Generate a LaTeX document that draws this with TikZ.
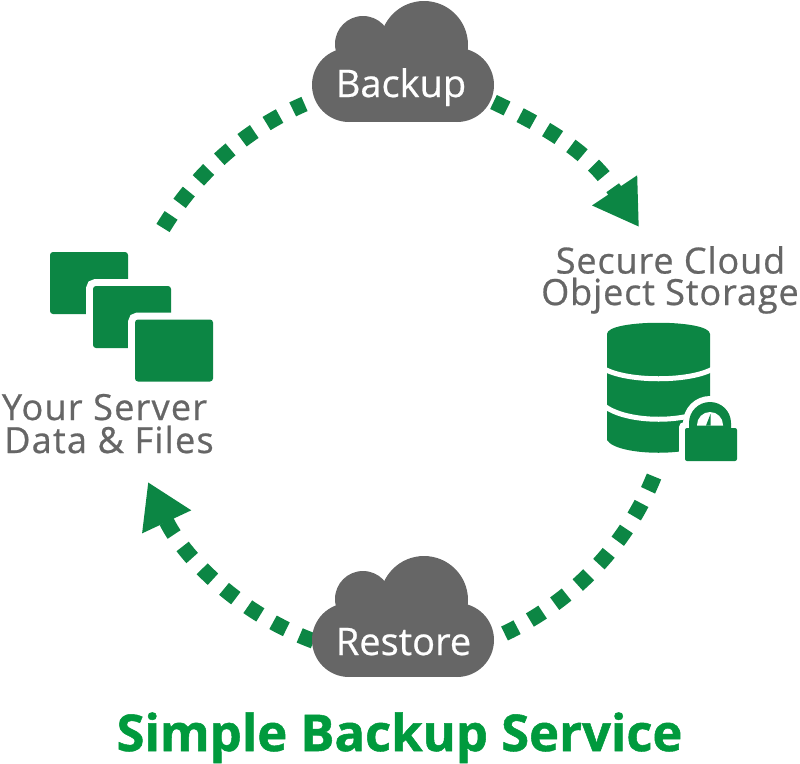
\documentclass[tikz,border=0pt]{standalone}
\usepackage{fontspec}
\setmainfont{Open Sans}
\newfontfamily\spacedfont[LetterSpace=2.5,FakeBold=0.7]{Open Sans}
\newfontfamily\widefont[LetterSpace=3.5,FakeBold=0.7]{Open Sans}
\newfontfamily\cloudfont[FakeBold=0.6]{Open Sans}
\newfontfamily\titlefont[FakeBold=1]{Open Sans Bold}
\usetikzlibrary{arrows.meta}
\definecolor{leaf}{HTML}{0C8644}
\definecolor{titlegreen}{HTML}{009A3D}
\definecolor{slate}{HTML}{666666}
\tikzset{
  plainflow/.style={draw=leaf,line width=15.5pt,dash pattern=on 15pt off 14.7pt},
  flow/.style={plainflow,-{Triangle[length=44pt,width=51pt,fill=leaf]}},
  filebox/.style={fill=leaf,rounded corners=3pt,minimum width=78pt,minimum height=62pt,
    inner sep=0pt,outer sep=0pt,preaction={draw=white,line width=14pt}},
  cloudlabel/.style={text=white,font=\fontsize{38}{38}\selectfont\cloudfont,anchor=base,inner sep=0pt},
  caption/.style={text=slate,font=\fontsize{36}{36}\selectfont\spacedfont,anchor=base,inner sep=0pt},
  widecaption/.style={text=slate,font=\fontsize{36}{36}\selectfont\widefont,anchor=base,inner sep=0pt},
  heading/.style={text=titlegreen,font=\fontsize{50.7}{50.7}\selectfont\titlefont,anchor=base,inner sep=0pt},
  pics/cloudblob/.style={code={
    \fill[slate] (424,45) circle[radius=44pt];
    \fill[slate] (363,44) circle[radius=28pt];
    \fill[slate] (457,85) circle[radius=37pt];
    \fill[slate] (349,85) circle[radius=37pt];
    \fill[slate] (349,48) rectangle (457,122);
  }}
}
\begin{document}
\begin{tikzpicture}[x=1pt,y=-1pt]
\useasboundingbox (0,0) rectangle (800,763);
% connector ends
\coordinate (filesOut) at (163,228);
\coordinate (backupIn) at (304.5,104);
\coordinate (backupOut) at (493.5,102);
\coordinate (storageIn) at (639,227);
\coordinate (storageOut) at (654,476.5);
\coordinate (restoreIn) at (504.5,633.5);
\coordinate (restoreOut) at (313.6,641);
\coordinate (filesIn) at (148,482);
% connectors
\draw[plainflow] (filesOut) .. controls (196,174) and (244,130) .. (backupIn);
\draw[flow] (backupOut) .. controls (565.5,136) and (595,161) .. (storageIn);
\draw[plainflow] (storageOut) .. controls (626,546) and (573,601) .. (restoreIn);
\draw[flow] (restoreOut) .. controls (236,612) and (182,554.5) .. (filesIn);
% clouds
\pic at (0,0) {cloudblob};
\pic at (0,555) {cloudblob};
\node[cloudlabel] (backup) at (401,97) {Backup};
\node[cloudlabel] (restore) at (403.5,655) {Restore};
% files
\node[filebox] (file1) at (89,283) {};
\node[filebox] (file2) at (132,317) {};
\node[filebox] (file3) at (174,350.5) {};
\node[widecaption] (files1) at (104.5,420) {Your Server};
\node[widecaption] (files2) at (109,453) {Data \& Files};
% storage
\node[caption] (store1) at (670.5,273.5) {Secure Cloud};
\node[caption] (store2) at (670,305) {Object Storage};
\fill[leaf] (607,334) .. controls (607,319) and (710,319) .. (710,334)
  -- (710,440) .. controls (700,457) and (617,457) .. (607,440) -- cycle;
\draw[white,line width=5pt] (600,366) .. controls (620,383) and (697,383) .. (717,366);
\draw[white,line width=5pt] (600,402) .. controls (620,425) and (697,425) .. (717,402);
% lock
\fill[white] (710,423) circle[radius=27pt];
\fill[white,rounded corners=5pt] (679,422) rectangle (743,467);
\fill[leaf] (689,428) -- (689,423) arc[start angle=180,end angle=0,radius=21pt] -- (731,428) -- cycle;
\fill[leaf,rounded corners=2pt] (685,428) rectangle (737,461);
\fill[white] (697,425.5) -- (697,425) arc[start angle=180,end angle=0,radius=13pt] -- (723,425.5) -- cycle;
\fill[leaf] (706,425.5) -- (710.5,414) -- (710.5,425.5) -- cycle;
% title
\node[heading] (title) at (399.5,751) {Simple Backup Service};
\end{tikzpicture}
\end{document}
